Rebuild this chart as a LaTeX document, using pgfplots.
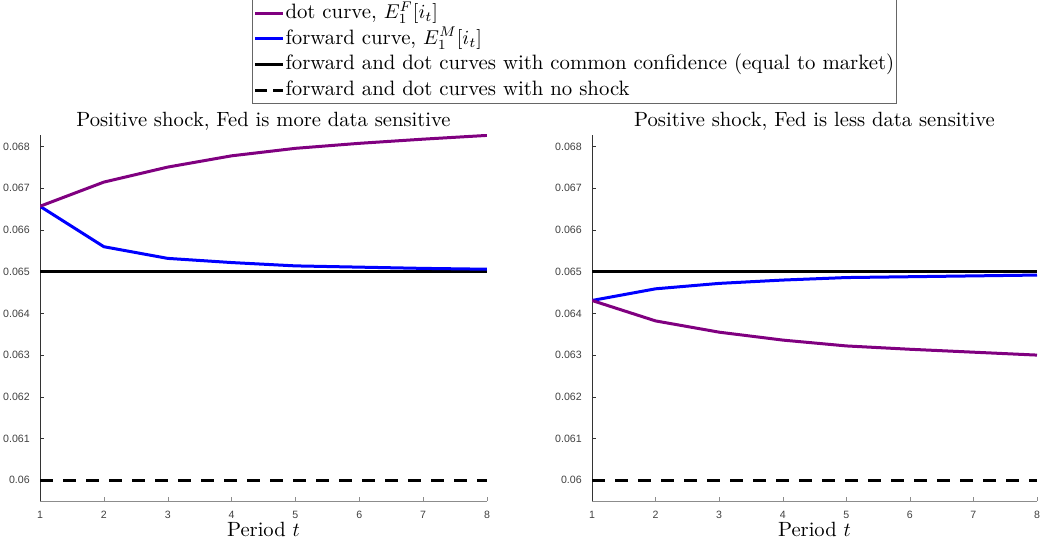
\documentclass[border=0pt]{standalone}
\usepackage{fontspec}
\newfontfamily\helv{Liberation Sans}
\usepackage{pgfplots}
\pgfplotsset{compat=1.18}
\definecolor{mpurple}{RGB}{128,0,128}
\begin{document}
\begin{tikzpicture}
\useasboundingbox (0,0) rectangle (520.5pt,-273pt);
\pgfplotsset{
 myax/.style={
  scale only axis, height=183pt,
  xmin=1, xmax=8, ymin=0.0595, ymax=0.06828,
  axis x line=bottom, axis y line=left, axis line style={-},
  x axis line style={draw=black!45}, y axis line style={draw=black!80},
  x tick style={draw=black!45}, y tick style={draw=black!80},
  tick align=inside, major tick length=2pt,
  xtick={1,2,3,4,5,6,7,8}, xticklabels={1,2,3,4,5,6,7,8},
  ytick={0.060,0.061,0.062,0.063,0.064,0.065,0.066,0.067,0.068},
  yticklabels={0.06,0.061,0.062,0.063,0.064,0.065,0.066,0.067,0.068},
  scaled y ticks=false,
  /pgf/number format/assume math mode=true,
  ticklabel style={font=\helv\fontsize{5.3}{6}\selectfont, text=black!75},
  xticklabel style={yshift=-1.6pt},
  yticklabel style={xshift=-1.6pt},
  every axis title shift=0pt,
  title style={font=\fontsize{10.3}{12}\selectfont, at={(0.5,1)}, anchor=base, yshift=4pt},
  xlabel style={font=\fontsize{10.3}{12}\selectfont, at={(0.5,0)}, anchor=base, yshift=-17.5pt},
  xlabel={Period $t$},
  every axis plot/.append style={line width=1.5pt},
 }
}
\begin{axis}[myax, at={(20pt,-250.5pt)}, anchor=south west, width=223.5pt,
  title={Positive shock, Fed is more data sensitive},
  legend style={at={(0.4743,1.3716)}, anchor=north west, draw=black!60, line width=0.5pt,
    font=\fontsize{10.4}{12}\selectfont, cells={anchor=west}, inner sep=0.5pt,
    column sep=0pt, row sep=0pt,
    nodes={inner sep=0.5pt, text height=8.5pt, text depth=3.3pt}},
  legend image code/.code={\draw[#1] (-1pt,0pt) -- (13pt,0pt);},
]
\addlegendimage{mpurple, line width=1.5pt}
\addlegendentry{dot curve, $E_1^F[i_t]$}
\addlegendimage{blue, line width=1.5pt}
\addlegendentry{forward curve, $E_1^M[i_t]$}
\addlegendimage{black, line width=1.5pt}
\addlegendentry{forward and dot curves with common confidence (equal to market)}
\addlegendimage{black, line width=1.5pt, dash pattern=on 6pt off 3pt}
\addlegendentry{forward and dot curves with no shock}
\addplot[black, forget plot] coordinates {(1,0.065) (8,0.065)};
\addplot[black, dash pattern=on 6.5pt off 5pt, forget plot] coordinates {(1,0.060) (8,0.060)};
\addplot[blue, forget plot] coordinates {(1,0.06657) (2,0.06560) (3,0.06532) (4,0.06522) (5,0.06514) (6,0.06511) (7,0.06508) (8,0.06506)};
\addplot[mpurple, forget plot] coordinates {(1,0.06657) (2,0.06715) (3,0.06751) (4,0.06778) (5,0.06796) (6,0.06808) (7,0.06818) (8,0.06827)};
\end{axis}
\begin{axis}[myax, at={(296pt,-250.5pt)}, anchor=south west, width=222.5pt,
  title={Positive shock, Fed is less data sensitive}]
\addplot[black] coordinates {(1,0.065) (8,0.065)};
\addplot[black, dash pattern=on 6.5pt off 5pt] coordinates {(1,0.060) (8,0.060)};
\addplot[blue] coordinates {(1,0.06431) (2,0.06459) (3,0.06472) (4,0.06480) (5,0.06486) (6,0.06488) (7,0.06490) (8,0.06492)};
\addplot[mpurple] coordinates {(1,0.06431) (2,0.06382) (3,0.06355) (4,0.06336) (5,0.06322) (6,0.06314) (7,0.06307) (8,0.06300)};
\end{axis}
\end{tikzpicture}
\end{document}
